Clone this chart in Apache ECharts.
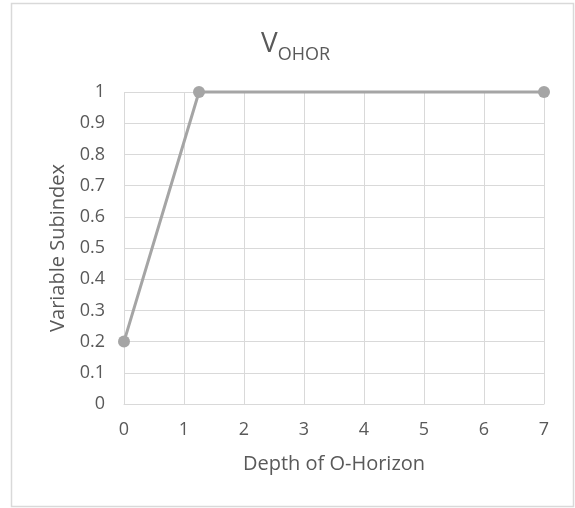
<!DOCTYPE html>
<html>
<head>
<meta charset="utf-8">
<script src="https://cdn.jsdelivr.net/npm/echarts@6/dist/echarts.min.js"></script>
<style>
  html, body { margin: 0; padding: 0; background: #fff; }
  #chart { width: 575px; height: 508px; }
</style>
</head>
<body>
<div id="chart"></div>
<script>
// depth of O-horizon vs subindex
let depths = [0, 1.25, 7];
let subindex = [0.2, 1, 1];

let xTicks = [0, 1, 2, 3, 4, 5, 6, 7];

let font = 'Open Sans';
let textColor = '#595959';
let lineColor = '#a5a5a5';

let chart = echarts.init(document.getElementById('chart'));

let options = {
  animation: false,
  textStyle: { fontFamily: font },
  title: {
    text: '{v|V}{s|OHOR}',
    left: 256,
    top: 19,
    textStyle: {
      fontWeight: 'normal',
      rich: {
        v: { fontSize: 28, color: textColor, fontFamily: font, fontWeight: 'normal', lineHeight: 34, verticalAlign: 'bottom' },
        s: { fontSize: 18, color: textColor, fontFamily: font, fontWeight: 'normal', lineHeight: 34, verticalAlign: 'bottom', padding: [0, 0, -6, 0] }
      }
    }
  },
  graphic: [{
    type: 'rect',
    shape: { x: 11.5, y: 3.5, width: 562, height: 503 },
    style: { fill: 'none', stroke: '#d9d9d9', lineWidth: 1.5 },
    silent: true
  }],
  grid: { left: 124, right: 31, top: 92, bottom: 104 },
  xAxis: {
    type: 'value',
    min: xTicks[0],
    max: xTicks[xTicks.length - 1],
    interval: 1,
    name: 'Depth of O-Horizon',
    nameLocation: 'middle',
    nameGap: 50,
    nameTextStyle: { fontSize: 20, color: textColor, fontFamily: font },
    axisLine: { show: true, lineStyle: { color: '#d9d9d9', width: 1 } },
    axisTick: { show: false },
    axisLabel: { fontSize: 18, color: textColor, margin: 17, fontFamily: font },
    splitLine: { show: true, lineStyle: { color: '#d9d9d9', width: 1 } }
  },
  yAxis: {
    type: 'value',
    min: 0,
    max: 1,
    interval: 0.1,
    name: 'Variable Subindex',
    nameLocation: 'middle',
    nameGap: 55,
    nameTextStyle: { fontSize: 20, color: textColor, fontFamily: font },
    axisLine: { show: false },
    axisTick: { show: false },
    axisLabel: {
      fontSize: 18, color: textColor, margin: 19, fontFamily: font,
      formatter: (v) => String(Math.round(v * 10) / 10)
    },
    splitLine: { show: true, lineStyle: { color: '#d9d9d9', width: 1 } }
  },
  series: [{
    type: 'line',
    data: depths.map((d, i) => [d, subindex[i]]),
    symbol: 'circle',
    symbolSize: 12,
    lineStyle: { color: lineColor, width: 3 },
    itemStyle: { color: lineColor },
    clip: false
  }]
};

chart.setOption(options);
</script>
</body>
</html>
